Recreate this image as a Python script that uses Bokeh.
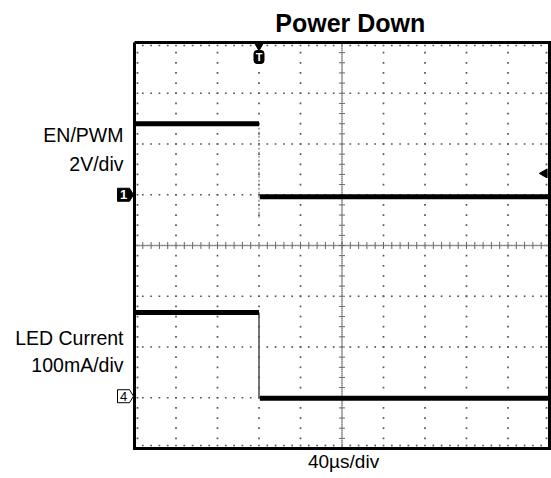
import numpy as np
from bokeh.plotting import figure
from bokeh.models import Range1d
from bokeh.core.properties import value
from bokeh.embed import file_html
from bokeh.resources import INLINE

# ---------------- data ----------------
# time base (µs): 40 µs/div, 10 divisions, trigger at t = 0 (3rd division)
time_per_div = 40
t_start, t_end = -120, 280

# channel 1 : EN/PWM (volts), 2 V/div, ground marker 1 div above centre
ch1_volts_per_div = 2
ch1_ground_div = 1
en_t_before = [-120, 0]
en_v_before = [2.8, 2.8]
en_t_edge = [0, 0]
en_v_edge = [2.8, -0.9]
en_t_after = [0.8, 280]
en_v_after = [-0.08, -0.08]
trigger_level_v = 0.84

# channel 4 : LED current (mA), 100 mA/div, ground marker 3 div below centre
ch4_ma_per_div = 100
ch4_ground_div = -3
led_t_before = [-120, 0]
led_i_before = [168, 168]
led_t_edge = [0, 0]
led_i_edge = [168, 0]
led_t_after = [0.8, 280]
led_i_after = [-1, -1]

title_text = "Power Down"
ch1_labels = ["EN/PWM", "2V/div"]
ch4_labels = ["LED Current", "100mA/div"]
time_label = "40\u00b5s/div"

# ---------------- figure (frame = whole canvas, graticule drawn as glyphs) ----------------
W, H = 551, 478
GL, GR, GT, GB = 134, 2, 42, 30          # graticule margins inside the canvas (px)
grat_w, grat_h = W - GL - GR, H - GT - GB
PX = (t_end - t_start) / grat_w          # µs per pixel
PY = 8 / grat_h                          # div per pixel

x_lo, x_hi = t_start - GL * PX, t_end + GR * PX
y_lo, y_hi = -4 - GB * PY, 4 + GT * PY

p = figure(width=W, height=H, output_backend="svg", toolbar_location=None,
           x_range=Range1d(x_lo, x_hi), y_range=Range1d(y_lo, y_hi),
           x_axis_location=None, y_axis_location=None,
           min_border_left=0, min_border_right=0, min_border_top=0, min_border_bottom=0)
p.grid.grid_line_color = None
p.outline_line_color = None
p.background_fill_color = "white"
p.border_fill_color = "white"

p.extra_y_ranges = {
    "ch1": Range1d((y_lo - ch1_ground_div) * ch1_volts_per_div, (y_hi - ch1_ground_div) * ch1_volts_per_div),
    "ch4": Range1d((y_lo - ch4_ground_div) * ch4_ma_per_div, (y_hi - ch4_ground_div) * ch4_ma_per_div),
}

# ---------------- graticule ----------------
major_x = np.arange(t_start, t_end + 1, time_per_div)
minor_x = np.arange(t_start, t_end + 0.1, time_per_div / 5)
major_y = np.arange(-4, 5, 1)
minor_y = np.arange(-4, 4.01, 0.2)
centre_x = (t_start + t_end) / 2

dx, dy = [], []
for mx in major_x[1:-1]:
    if mx == centre_x:
        continue
    dx += [mx] * len(minor_y)
    dy += list(minor_y)
for my in major_y[1:-1]:
    if my == 0:
        continue
    dx += list(minor_x)
    dy += [my] * len(minor_x)
dx += list(minor_x); dy += [4 - 3 * PY] * len(minor_x)
dx += list(minor_x); dy += [-4 + 3 * PY] * len(minor_x)
dx += [t_start + 3 * PX] * len(minor_y); dy += list(minor_y)
dx += [t_end - 3 * PX] * len(minor_y); dy += list(minor_y)
p.scatter(dx, dy, marker="square", size=1.7, color="#555555", line_color=None)

p.line([t_start, t_end], [0, 0], line_color="#bbbbbb", line_width=1)
p.line([centre_x, centre_x], [-4, 4], line_color="#bbbbbb", line_width=1)
fine_x = np.arange(t_start, t_end + 0.1, time_per_div / 25)
fine_y = np.arange(-4, 4.01, 0.04)
p.scatter(fine_x, np.zeros_like(fine_x), marker="square", size=1.5, color="#888888", line_color=None)
p.scatter(np.full_like(fine_y, centre_x), fine_y, marker="square", size=1.5, color="#888888", line_color=None)
p.segment(x0=minor_x, y0=-3.5 * PY, x1=minor_x, y1=3.5 * PY, line_color="#666666", line_width=1)
p.segment(x0=centre_x - 3 * PX, y0=minor_y, x1=centre_x + 3 * PX, y1=minor_y, line_color="#666666", line_width=1)

# border of the graticule
p.line([t_start, t_end, t_end, t_start, t_start], [4, 4, -4, -4, 4], line_color="black", line_width=3,
       line_join="miter")

# ---------------- traces ----------------
p.line(en_t_edge, en_v_edge, y_range_name="ch1", line_color="#777777", line_width=1.2, line_dash="2 2")
p.line(en_t_before, en_v_before, y_range_name="ch1", line_color="black", line_width=5)
p.line(en_t_after, en_v_after, y_range_name="ch1", line_color="black", line_width=5)

p.line(led_t_edge, led_i_edge, y_range_name="ch4", line_color="#555555", line_width=1.6)
p.line(led_t_before, led_i_before, y_range_name="ch4", line_color="black", line_width=5)
p.line(led_t_after, led_i_after, y_range_name="ch4", line_color="black", line_width=5)

# trigger level arrow (right edge)
p.scatter([t_end - 5 * PX], [trigger_level_v], y_range_name="ch1", marker="triangle",
          angle=np.pi / 2, size=9, color="black")

# trigger position marker (top)
p.scatter([0], [4 - 3 * PY], marker="inverted_triangle", size=9, color="black")
p.rect([0], [4 - 14.5 * PY], width=10, height=13, width_units="screen", height_units="screen",
       fill_color="black", line_color="black", border_radius=3)
p.text([0], [4 - 14.5 * PY], text=["T"], text_color="white", text_font=value("Liberation Sans"),
       text_font_style="bold", text_font_size="11px", text_align="center", text_baseline="middle")

# ground markers (left, outside graticule)
def ground_marker(ydiv, label, fill, txt_color):
    xl, xr, xt = t_start - 17 * PX, t_start - 5 * PX, t_start - 1 * PX
    h = 6.5 * PY
    p.patch([xl, xr, xt, xr, xl], [ydiv + h, ydiv + h, ydiv, ydiv - h, ydiv - h],
            fill_color=fill, line_color="black", line_width=1)
    p.text([(xl + xr) / 2], [ydiv], text=[label], text_color=txt_color,
           text_font=value("Liberation Sans"), text_font_style="bold" if fill == "black" else "normal",
           text_font_size="13px", text_align="center", text_baseline="middle")

ground_marker(ch1_ground_div, "1", "black", "white")
ground_marker(ch4_ground_div + 0.03, "4", "white", "black")

# ---------------- texts ----------------
SHIFT = 8 * PY   # rendered baseline sits lower than requested; lift texts

def txt(x, y, s, size="19.5px", align="right", style="normal"):
    p.text([x], [y + SHIFT], text=[s], text_font=value("Liberation Sans"), text_font_size=size,
           text_align=align, text_baseline="alphabetic", text_color="black", text_font_style=style)

lx = t_start - 11 * PX
txt(lx, 2.01, ch1_labels[0])
txt(lx, 1.44, ch1_labels[1])
txt(lx, -1.99, ch4_labels[0])
txt(lx, -2.52, ch4_labels[1])
txt(centre_x + 1.5, -4 - 21 * PY, time_label, size="19px", align="center")
txt(centre_x + 8, 4 + 12 * PY, title_text, size="25px", align="center", style="bold")

open("out.html", "w").write(file_html(p, INLINE))
